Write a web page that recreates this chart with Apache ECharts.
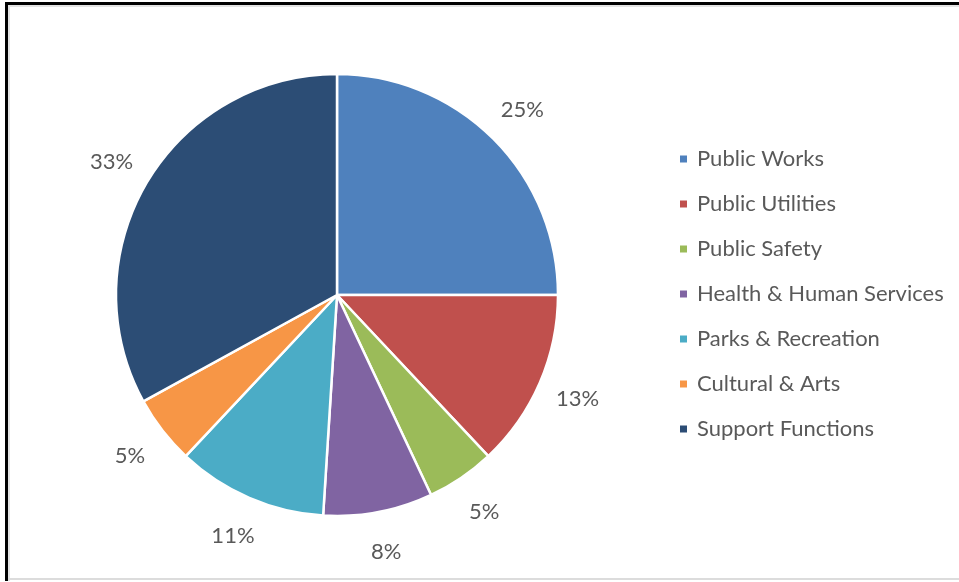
<!DOCTYPE html>
<html>
<head>
<meta charset="utf-8">
<script src="https://cdn.jsdelivr.net/npm/echarts@6/dist/echarts.min.js"></script>
<style>
  html, body { margin: 0; padding: 0; background: #fff; }
  #frame {
    position: absolute; left: 5px; top: 2px; width: 960px; height: 576px;
    border-top: 3px solid #000; border-left: 3px solid #000;
    box-shadow: inset 2px 2px 0 #e3e3e3;
  }
  #bottomEdge {
    position: absolute; left: 8px; top: 578px; width: 951px; height: 2px; background: #dcdcdc;
  }
  #chart { position: absolute; left: 0; top: 0; width: 959px; height: 582px; }
</style>
</head>
<body>
<div id="frame"></div>
<div id="bottomEdge"></div>
<div id="chart"></div>
<script>
// Budget share by department (percent)
const departments = [
  'Public Works',
  'Public Utilities',
  'Public Safety',
  'Health & Human Services',
  'Parks & Recreation',
  'Cultural & Arts',
  'Support Functions'
];
const shares = [25, 13, 5, 8, 11, 5, 33];
const sliceColors = ['#4F81BD', '#C0504D', '#9BBB59', '#8064A2', '#4BACC6', '#F79646', '#2C4D75'];

const FONT = 'Lato, "Liberation Sans", sans-serif';
const TEXT_COLOR = '#595959';

const pieData = departments.map((name, i) => ({ name, value: shares[i] }));

const chart = echarts.init(document.getElementById('chart'), null, { renderer: 'canvas' });
chart.setOption({
  animation: false,
  color: sliceColors,
  legend: {
    orient: 'vertical',
    left: 678,
    top: 148,
    padding: 0,
    icon: 'rect',
    itemWidth: 9,
    itemHeight: 9,
    itemGap: 23,
    selectedMode: false,
    data: departments,
    textStyle: {
      fontFamily: FONT,
      fontSize: 22,
      lineHeight: 22,
      color: TEXT_COLOR,
      padding: [0, 0, 0, 4]
    }
  },
  series: [
    {
      // the slices
      type: 'pie',
      center: [337, 295],
      radius: 221,
      startAngle: 90,
      clockwise: true,
      silent: true,
      data: pieData,
      label: { show: false },
      labelLine: { show: false },
      itemStyle: { borderColor: '#ffffff', borderWidth: 2.5 },
      emphasis: { disabled: true }
    },
    {
      // percentage labels, centred on a ring just outside the pie
      type: 'pie',
      center: [337, 295],
      radius: [252, 266],
      startAngle: 90,
      clockwise: true,
      silent: true,
      data: pieData,
      itemStyle: { color: 'rgba(0,0,0,0)', borderWidth: 0 },
      label: {
        show: true,
        position: 'inside',
        formatter: '{c}%',
        fontFamily: FONT,
        fontSize: 22,
        color: TEXT_COLOR
      },
      labelLine: { show: false },
      emphasis: { disabled: true }
    }
  ]
});
</script>
</body>
</html>
